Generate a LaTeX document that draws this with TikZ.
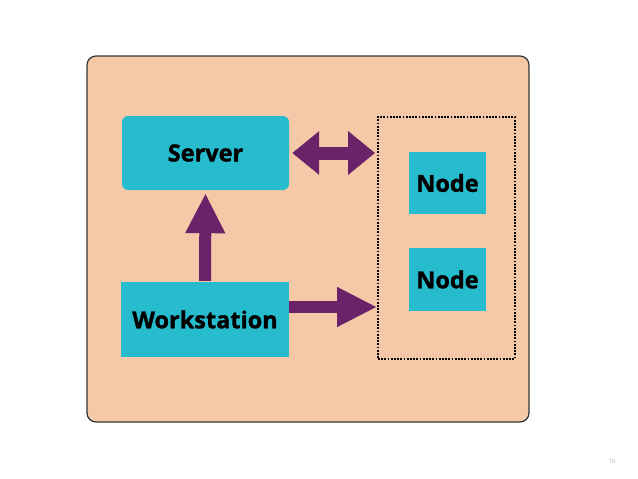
\documentclass[tikz,border=0pt]{standalone}
\usepackage{fontspec}
\setmainfont{Open Sans}[BoldFeatures={FakeBold=1.3}]
\usetikzlibrary{arrows.meta}

\definecolor{peach}{HTML}{F5C8A7}
\definecolor{tealbox}{HTML}{26BCCE}
\definecolor{plum}{HTML}{6A2268}

\tikzset{
	box/.style={fill=tealbox, inner sep=0pt, font=\fontsize{23.5}{28}\selectfont\bfseries, text=black},
	link/.style={plum, line width=12pt},
}

\begin{document}
\begin{tikzpicture}[x=1pt,y=1pt,yscale=-1,xscale=1]
		\useasboundingbox (0,0) rectangle (638,479);

		\draw [fill=peach, draw=black!80, line width=1.2pt, rounded corners=9] (87,56) rectangle (529,422);

		\node [box, rounded corners=6, minimum width=167, minimum height=74] (server) at (205.5,153) {Server};
		\node [box, minimum width=168, minimum height=75] (ws) at (205,319.5) {Workstation};

		\node [draw, line width=1.8pt, dash pattern=on 1.8pt off 1.4pt, minimum width=137, minimum height=242, inner sep=0pt] (cluster) at (446.5,238) {};
		\node [box, minimum width=77, minimum height=62] (n1) at (447.5,183) {Node};
		\node [box, minimum width=77, minimum height=63] (n2) at (447.5,279.5) {Node};

		\draw [link, line width=13pt, {Triangle[width=42pt,length=27pt]}-{Triangle[width=42pt,length=27pt]}, shorten <=3pt, shorten >=2pt] (server.east) -- (server.east -| cluster.west);
		\draw [link, -{Triangle[width=37pt,length=40pt]}, shorten >=3pt, shorten <=1pt] (ws.north) -- (server.south);
		\draw [link, -{Triangle[width=37pt,length=40pt]}] (ws.east |- 0,307) coordinate (wsout) -- (wsout -| cluster.west);

		\node [text=black!30, font=\fontsize{6}{7}\selectfont] (page) at (612,461) {16};
\end{tikzpicture}
\end{document}
